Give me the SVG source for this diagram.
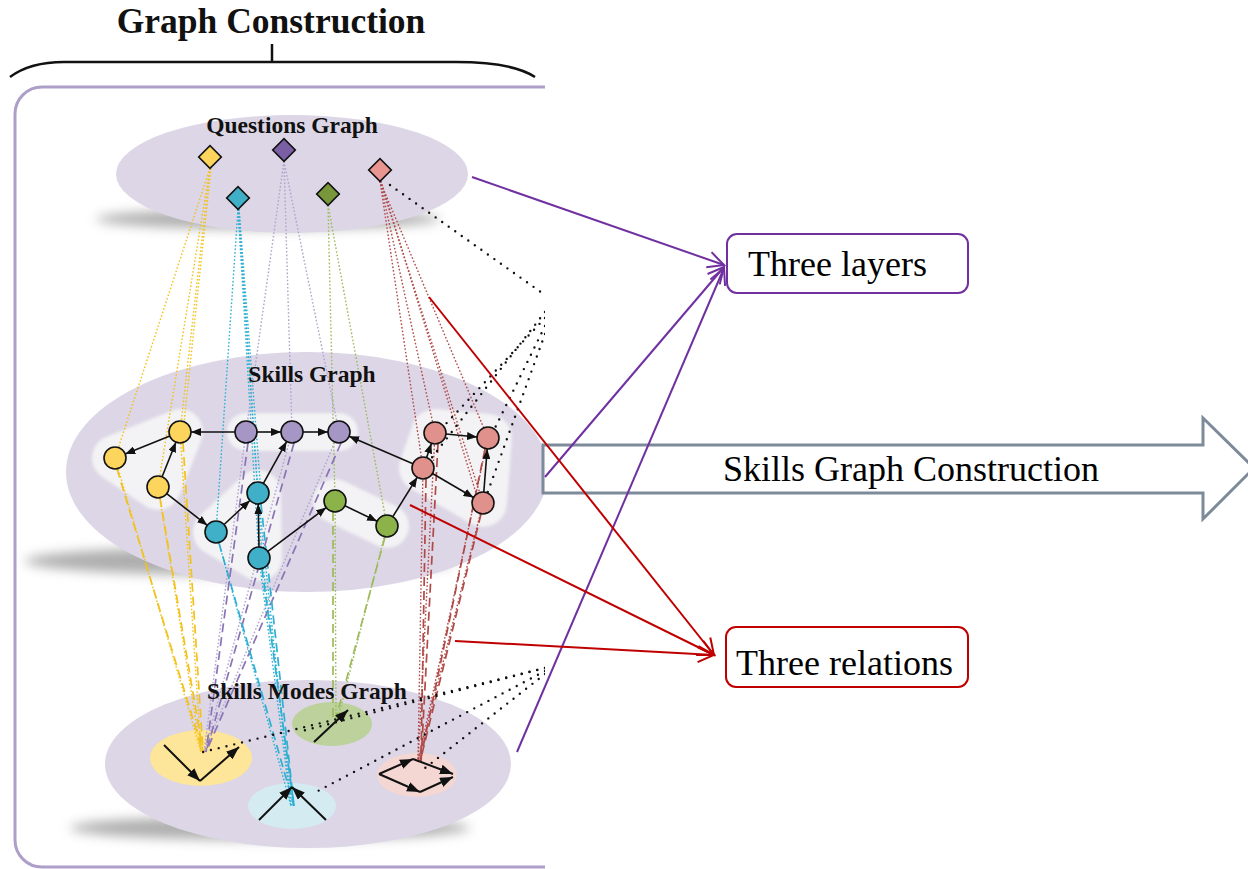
<svg xmlns="http://www.w3.org/2000/svg" width="1248" height="869" viewBox="0 0 1248 869">
  <defs>
    <style>
      .serif { font-family: "Liberation Serif", "Times New Roman", serif; }
      .layer-label { font-family: "Liberation Serif", "Times New Roman", serif; font-weight: bold; font-size: 23.5px; fill: #111; text-anchor: middle; }
      .layer { fill: #dcd6e6; }
      .shadow { fill: #9a9a9a; filter: url(#soft); opacity: 0.8; }
      .blob { fill: none; stroke: #f3f2f4; stroke-linejoin: round; stroke-linecap: round; }
      .node { stroke: #111; stroke-width: 1.6; }
      .edge { stroke: #111; stroke-width: 1.6; fill: none; marker-end: url(#tri); }
      .mode-edge { stroke: #111; stroke-width: 2; fill: none; marker-end: url(#tri2); }
      .fine { fill: none; stroke-width: 1.4; stroke-dasharray: 1.6 2; }
      .dash { fill: none; stroke-width: 1.7; stroke-dasharray: 9 5; }
      .blackdots { fill: none; stroke: #111; stroke-width: 2.4; stroke-linecap: round; stroke-dasharray: 0 8; }
      .y { stroke: #f2c21b; } .p { stroke: #8a74b5; } .c { stroke: #2eb0d3; } .g { stroke: #9dbb5a; } .k { stroke: #b04a47; }
      .pl { stroke: #b0a4cc; }
      .purple-link { stroke: #7030a0; stroke-width: 2; fill: none; marker-end: url(#openP); }
      .red-link { stroke: #c00000; stroke-width: 2; fill: none; marker-end: url(#openR); }
      .box-text { font-family: "Liberation Serif", "Times New Roman", serif; font-size: 36px; fill: #000; }
    </style>
    <filter id="soft" x="-20%" y="-200%" width="140%" height="500%">
      <feGaussianBlur stdDeviation="6"/>
    </filter>
    <filter id="edge" filterUnits="userSpaceOnUse" x="0" y="0" width="1248" height="869">
      <feGaussianBlur stdDeviation="1.5"/>
    </filter>
    <clipPath id="panel">
      <rect x="0" y="0" width="545" height="869"/>
    </clipPath>
    <marker id="tri" markerUnits="userSpaceOnUse" markerWidth="10" markerHeight="8" refX="10" refY="4" orient="auto">
      <path d="M0,0 L10,4 L0,8 Z" fill="#111"/>
    </marker>
    <marker id="tri2" markerUnits="userSpaceOnUse" markerWidth="13" markerHeight="10" refX="13" refY="5" orient="auto">
      <path d="M0,0 L13,5 L0,10 Z" fill="#111"/>
    </marker>
    <marker id="openP" markerUnits="userSpaceOnUse" markerWidth="20" markerHeight="20" refX="17" refY="9" orient="auto">
      <path d="M1,1 L17,9 L1,17" fill="none" stroke="#7030a0" stroke-width="2"/>
    </marker>
    <marker id="openR" markerUnits="userSpaceOnUse" markerWidth="20" markerHeight="20" refX="17" refY="9" orient="auto">
      <path d="M1,1 L17,9 L1,17" fill="none" stroke="#c00000" stroke-width="2"/>
    </marker>
  </defs>

  <rect x="0" y="0" width="1248" height="869" fill="#ffffff"/>

  <!-- Title and brace -->
  <g id="title">
    <text class="serif" x="271" y="33" font-size="35.5" font-weight="bold" text-anchor="middle" fill="#111">Graph Construction</text>
    <path d="M10,77 Q30,62 64,62 L456,62 Q512,62 535,77" fill="none" stroke="#111" stroke-width="2.5"/>
    <line x1="272" y1="44" x2="272" y2="62" stroke="#111" stroke-width="2.5"/>
  </g>

  <g id="panel-content" clip-path="url(#panel)">
    <!-- frame -->
    <rect x="15" y="87" width="620" height="780" rx="27" fill="#ffffff" stroke="#ae9fc8" stroke-width="3"/>

    <!-- layer shadows -->
    <ellipse class="shadow" cx="268" cy="219" rx="172" ry="10"/>
    <ellipse class="shadow" cx="240" cy="561" rx="215" ry="14"/>
    <ellipse class="shadow" cx="270" cy="828" rx="200" ry="12"/>

    <!-- layers -->
    <g id="questions-layer">
      <ellipse class="layer" cx="292" cy="174" rx="176" ry="59"/>
    </g>
    <g id="skills-layer">
      <ellipse class="layer" cx="307" cy="472" rx="241" ry="120"/>
      <g filter="url(#edge)">
        <polyline class="blob" stroke-width="46" points="115,458 180,432 158,487 115,458"/>
        <polygon points="115,458 180,432 158,487" fill="#f3f2f4"/>
        <line class="blob" stroke-width="38" x1="246" y1="432" x2="339" y2="432"/>
        <polyline class="blob" stroke-width="46" points="216,532 258,493 259,558 216,532"/>
        <polygon points="216,532 258,493 259,558" fill="#f3f2f4"/>
        <line class="blob" stroke-width="44" x1="335" y1="501" x2="387" y2="526"/>
        <polyline class="blob" stroke-width="48" points="423,468 435,433 488,438 483,503 423,468"/>
        <polygon points="423,468 435,433 488,438 483,503" fill="#f3f2f4"/>
      </g>
    </g>
    <g id="modes-layer">
      <ellipse class="layer" cx="308" cy="764" rx="203" ry="84"/>
      <ellipse cx="201" cy="758" rx="51" ry="28" fill="#fde59a"/>
      <ellipse cx="332" cy="724" rx="40" ry="22" fill="#bcd19b"/>
      <ellipse cx="292" cy="806" rx="44" ry="23" fill="#d5ebf2"/>
      <ellipse cx="417" cy="775" rx="40" ry="22" fill="#f4d6d2"/>
    </g>

    <!-- connectors between layers -->
    <g id="connectors">
      <!-- questions to skills, continuing to modes -->
      <polyline class="fine y" points="210,168 115,458 201,752"/>
      <polyline class="fine y" points="210,168 158,487 201,752"/>
      <polyline class="fine y" points="210,168 180,432 201,752"/>
      <polyline class="fine y" points="211,168 183,432"/>
      <polyline class="fine c" points="238,209 216,532 291,806"/>
      <polyline class="fine c" points="238,209 258,493 291,806"/>
      <polyline class="fine c" points="239,209 261,493"/>
      <polyline class="fine c" points="238,209 259,558 291,806"/>
      <polyline class="fine c" points="239,209 262,558 293,806"/>
      <polyline class="fine pl" points="284,161 246,432 204,752"/>
      <polyline class="fine pl" points="284,161 292,432 204,752"/>
      <polyline class="fine pl" points="284,161 339,432 204,752"/>
      <polyline class="fine g" points="328,205 335,501 336,718"/>
      <polyline class="fine g" points="328,205 387,526 338,718"/>
      <polyline class="fine k" points="380,181 423,468 418,762"/>
      <polyline class="fine k" points="380,181 435,433 418,762"/>
      <polyline class="fine k" points="380,181 488,438 418,762"/>
      <polyline class="fine k" points="380,181 483,503 418,762"/>
      <polyline class="fine k" points="381,181 479,503"/>

      <!-- skills to modes -->
      <line class="dash y" x1="117" y1="469" x2="203" y2="752"/>
      <line class="dash y" x1="160" y1="498" x2="203" y2="752"/>
      <line class="dash y" x1="183" y1="443" x2="203" y2="752"/>
      <line class="dash p" x1="248" y1="443" x2="206" y2="752"/>
      <line class="dash p" x1="294" y1="443" x2="206" y2="752"/>
      <line class="dash p" x1="341" y1="443" x2="206" y2="752"/>
      <line class="dash c" x1="219" y1="543" x2="294" y2="806"/>
      <line class="dash c" x1="261" y1="504" x2="294" y2="806"/>
      <line class="dash c" x1="262" y1="569" x2="294" y2="806"/>
      <line class="dash g" x1="333" y1="512" x2="333" y2="718"/>
      <line class="dash g" x1="385" y1="537" x2="336" y2="718"/>
      <line class="dash k" x1="426" y1="479" x2="421" y2="762"/>
      <line class="dash k" x1="438" y1="444" x2="421" y2="762"/>
      <line class="dash k" x1="485" y1="449" x2="420" y2="762"/>
      <line class="dash k" x1="481" y1="514" x2="420" y2="762"/>

      <!-- black dotted links running off the panel -->
      <line class="blackdots" x1="390" y1="185" x2="545" y2="295"/>
      <line class="blackdots" x1="545" y1="312" x2="430" y2="460"/>
      <line class="blackdots" x1="545" y1="318" x2="442" y2="428"/>
      <line class="blackdots" x1="545" y1="326" x2="494" y2="430"/>
      <line class="blackdots" x1="545" y1="334" x2="487" y2="494"/>
      <line class="blackdots" x1="545" y1="668" x2="203" y2="752"/>
      <line class="blackdots" x1="545" y1="668" x2="298" y2="732"/>
      <line class="blackdots" x1="545" y1="671" x2="316" y2="792"/>
      <line class="blackdots" x1="545" y1="674" x2="420" y2="772"/>
    </g>

    <!-- skill graph edges -->
    <g id="skill-edges">
      <line class="edge" x1="169.8" y1="436.1" x2="125.2" y2="453.9"/>
      <line class="edge" x1="162.1" y1="476.8" x2="175.9" y2="442.2"/>
      <line class="edge" x1="166.7" y1="493.7" x2="207.3" y2="525.3"/>
      <line class="edge" x1="235" y1="432" x2="191" y2="432"/>
      <line class="edge" x1="257" y1="432" x2="281" y2="432"/>
      <line class="edge" x1="303" y1="432" x2="328" y2="432"/>
      <line class="edge" x1="224.1" y1="524.5" x2="249.9" y2="500.5"/>
      <line class="edge" x1="259" y1="547" x2="258.2" y2="504"/>
      <line class="edge" x1="263.4" y1="483.4" x2="286.6" y2="441.6"/>
      <line class="edge" x1="267.8" y1="551.4" x2="326.2" y2="507.6"/>
      <line class="edge" x1="344.9" y1="505.8" x2="377.1" y2="521.2"/>
      <line class="edge" x1="392.8" y1="516.7" x2="417.2" y2="477.3"/>
      <line class="edge" x1="412.9" y1="463.7" x2="349.1" y2="436.3"/>
      <line class="edge" x1="426.6" y1="457.6" x2="431.4" y2="443.4"/>
      <line class="edge" x1="446" y1="434" x2="477" y2="437"/>
      <line class="edge" x1="432.5" y1="473.5" x2="473.5" y2="497.5"/>
      <line class="edge" x1="483.8" y1="492" x2="487.2" y2="449"/>
    </g>

    <!-- question nodes -->
    <g id="q-yellow"><rect class="node" x="202" y="149" width="16" height="16" fill="#fdd55c" transform="rotate(45 210 157)"/></g>
    <g id="q-purple"><rect class="node" x="276" y="142" width="16" height="16" fill="#7a5fa5" transform="rotate(45 284 150)"/></g>
    <g id="q-pink"><rect class="node" x="372" y="162" width="16" height="16" fill="#e8968f" transform="rotate(45 380 170)"/></g>
    <g id="q-cyan"><rect class="node" x="230" y="190" width="16" height="16" fill="#3fb0c8" transform="rotate(45 238 198)"/></g>
    <g id="q-green"><rect class="node" x="320" y="186" width="16" height="16" fill="#78973a" transform="rotate(45 328 194)"/></g>

    <!-- skill nodes -->
    <g id="s-y1"><circle class="node" cx="115" cy="458" r="11" fill="#fdd55c"/></g>
    <g id="s-y2"><circle class="node" cx="180" cy="432" r="11" fill="#fdd55c"/></g>
    <g id="s-y3"><circle class="node" cx="158" cy="487" r="11" fill="#fdd55c"/></g>
    <g id="s-p1"><circle class="node" cx="246" cy="432" r="11" fill="#a696c6"/></g>
    <g id="s-p2"><circle class="node" cx="292" cy="432" r="11" fill="#a696c6"/></g>
    <g id="s-p3"><circle class="node" cx="339" cy="432" r="11" fill="#a696c6"/></g>
    <g id="s-c1"><circle class="node" cx="216" cy="532" r="11" fill="#3fb0c8"/></g>
    <g id="s-c2"><circle class="node" cx="258" cy="493" r="11" fill="#3fb0c8"/></g>
    <g id="s-c3"><circle class="node" cx="259" cy="558" r="11" fill="#3fb0c8"/></g>
    <g id="s-g1"><circle class="node" cx="335" cy="501" r="11" fill="#8cb34a"/></g>
    <g id="s-g2"><circle class="node" cx="387" cy="526" r="11" fill="#8cb34a"/></g>
    <g id="s-k1"><circle class="node" cx="423" cy="468" r="11" fill="#e0918c"/></g>
    <g id="s-k2"><circle class="node" cx="435" cy="433" r="11" fill="#e0918c"/></g>
    <g id="s-k3"><circle class="node" cx="488" cy="438" r="11" fill="#e0918c"/></g>
    <g id="s-k4"><circle class="node" cx="483" cy="503" r="11" fill="#e0918c"/></g>

    <!-- skill mode glyphs -->
    <g id="mode-yellow">
      <line class="mode-edge" x1="164" y1="745" x2="200" y2="781"/>
      <line class="mode-edge" x1="200" y1="781" x2="239" y2="747"/>
    </g>
    <g id="mode-green">
      <line class="mode-edge" x1="314" y1="742" x2="348" y2="710"/>
    </g>
    <g id="mode-cyan">
      <line class="mode-edge" x1="259" y1="820" x2="292" y2="787"/>
      <line class="mode-edge" x1="326" y1="820" x2="292" y2="787"/>
    </g>
    <g id="mode-pink">
      <line class="mode-edge" x1="379" y1="774" x2="413" y2="759"/>
      <line class="mode-edge" x1="413" y1="759" x2="453" y2="774"/>
      <line class="mode-edge" x1="379" y1="774" x2="420" y2="792"/>
      <line class="mode-edge" x1="420" y1="792" x2="453" y2="777"/>
    </g>

    <!-- layer labels -->
    <text class="layer-label" x="292" y="133">Questions Graph</text>
    <text class="layer-label" x="312" y="382">Skills Graph</text>
    <text class="layer-label" x="307" y="699">Skills Modes Graph</text>
  </g>

  <!-- construction arrow -->
  <g id="construction-arrow">
    <path d="M543,445 L1203,445 L1203,418 L1254,468 L1203,519 L1203,493 L543,493 Z" fill="#ffffff" stroke="#7d8a99" stroke-width="3" stroke-linejoin="miter"/>
    <text class="box-text" x="911" y="481" text-anchor="middle" font-size="37">Skills Graph Construction</text>
  </g>

  <!-- summary boxes -->
  <g id="three-layers">
    <rect x="727" y="234" width="241" height="59" rx="10" fill="#ffffff" stroke="#7030a0" stroke-width="2"/>
    <text class="box-text" x="748" y="276">Three layers</text>
  </g>
  <g id="three-relations">
    <rect x="726" y="627" width="242" height="60" rx="10" fill="#ffffff" stroke="#c00000" stroke-width="2"/>
    <text class="box-text" x="736" y="675">Three relations</text>
  </g>

  <!-- pointers to the summary boxes -->
  <g id="pointers">
    <line class="purple-link" x1="472" y1="177" x2="724" y2="265"/>
    <line class="purple-link" x1="545" y1="477" x2="724" y2="267"/>
    <line class="purple-link" x1="517" y1="752" x2="724" y2="268"/>
    <line class="red-link" x1="429" y1="297" x2="714" y2="655"/>
    <line class="red-link" x1="410" y1="505" x2="714" y2="655"/>
    <line class="red-link" x1="455" y1="641" x2="714" y2="655"/>
  </g>
</svg>
